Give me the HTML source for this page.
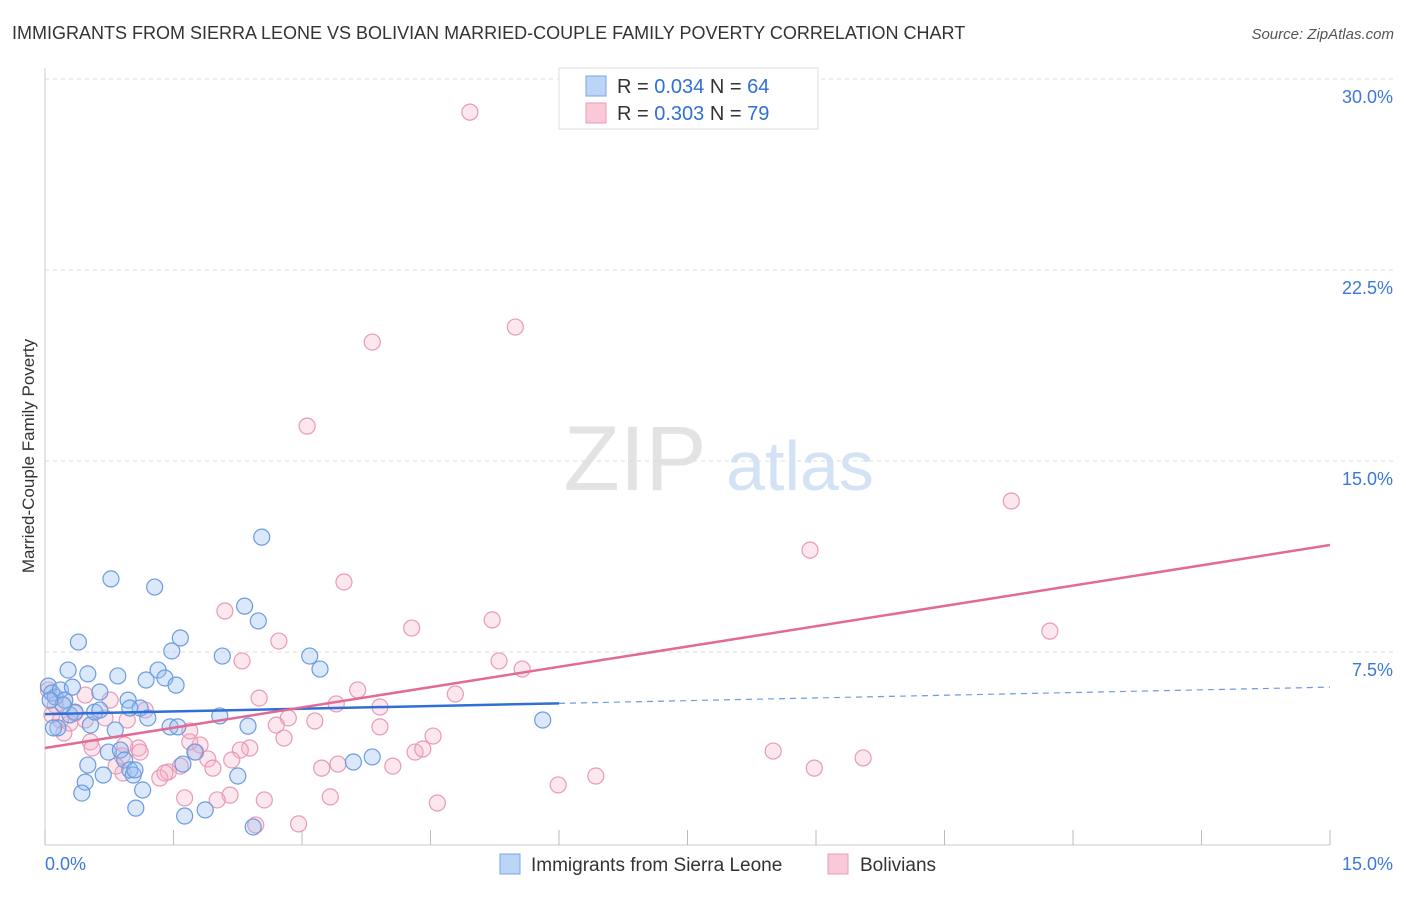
<!DOCTYPE html>
<html><head><meta charset="utf-8">
<style>
body{margin:0;background:#fff;font-family:"Liberation Sans",sans-serif;}
svg text{font-family:"Liberation Sans",sans-serif;}
</style></head>
<body>
<svg id="chart" width="1406" height="892" xmlns="http://www.w3.org/2000/svg">
<text x="12" y="39" font-size="18" fill="#333">IMMIGRANTS FROM SIERRA LEONE VS BOLIVIAN MARRIED-COUPLE FAMILY POVERTY CORRELATION CHART</text>
<text x="1394" y="39" font-size="15" fill="#555" text-anchor="end" font-style="italic">Source: ZipAtlas.com</text>
<g>
<text x="635" y="490" font-size="92" fill="#ddd" text-anchor="middle" font-family="Liberation Serif" opacity="0.8">ZIP</text>
<text x="800" y="490" font-size="70" fill="#c9dcf2" text-anchor="middle" opacity="0.8">atlas</text>
</g>
<g id="grid"></g>
<g id="axes"></g>
<g id="marks"></g>
<text transform="translate(34,456) rotate(-90)" font-size="17" fill="#333" text-anchor="middle">Married-Couple Family Poverty</text>
<g>
<rect x="559" y="68" width="259" height="61" fill="#fff" stroke="#ddd"/>
<rect x="586" y="76" width="20" height="20" fill="#bcd5f5" stroke="#7aa6e6"/>
<rect x="586" y="103" width="20" height="20" fill="#f9c9d8" stroke="#ea9ab6"/>
<text x="617" y="93" font-size="20" fill="#333">R = <tspan fill="#2f6fd6">0.034</tspan>   N = <tspan fill="#2f6fd6">64</tspan></text>
<text x="617" y="120" font-size="20" fill="#333">R = <tspan fill="#2f6fd6">0.303</tspan>   N = <tspan fill="#2f6fd6">79</tspan></text>
</g>
<g>
<rect x="500" y="854" width="20" height="20" fill="#bcd5f5" stroke="#7aa6e6"/>
<text x="531" y="871" font-size="19" fill="#333">Immigrants from Sierra Leone</text>
<rect x="828" y="854" width="20" height="20" fill="#f9c9d8" stroke="#ea9ab6"/>
<text x="860" y="871" font-size="19" fill="#333">Bolivians</text>
</g>
</svg>
<script>
const yTicks=[7.5,15,22.5,30];
const yTickLabels=["7.5%","15.0%","22.5%","30.0%"];
const xTickLabels=["0.0%","15.0%"];
const blueX=[.04,.08,.12,.18,.23,.15,.10,.27,.32,.39,.29,.35,.50,.53,.47,.43,.50,.58,.64,.68,.74,.77,.85,.82,.88,.93,.97,.99,1.03,1.06,1.11,1.14,1.18,1.20,1.28,1.32,1.40,1.48,1.53,1.58,1.46,1.55,1.61,1.63,1.75,1.87,2.07,2.04,2.25,2.33,2.37,2.43,2.49,2.53,3.09,3.21,3.60,3.82,5.81,.99,1.05,.21,.06,.64];
const blueY=[6.16,5.89,5.73,6.01,5.61,4.52,4.52,6.79,6.12,7.89,5.03,5.14,6.64,4.63,2.39,1.96,3.06,5.14,5.93,2.67,3.57,10.37,6.56,4.44,3.65,3.26,5.61,2.87,2.67,1.37,5.30,2.08,6.40,4.91,10.05,6.79,6.48,7.54,6.20,8.05,4.56,4.56,3.10,1.06,3.57,1.30,7.34,4.99,2.63,9.30,4.59,0.63,8.72,12.01,7.34,6.83,3.18,3.38,4.83,5.30,2.87,5.42,5.61,5.22];
const pinkX=[4.96,5.49,3.82,3.06,11.28,8.93,3.49,2.10,4.28,5.22,11.73,2.73,2.30,5.30,5.57,3.65,4.79,2.50,3.40,3.91,2.84,3.15,2.70,3.91,4.53,2.79,2.39,2.28,4.32,4.41,8.50,9.55,1.81,1.90,1.96,2.18,1.76,1.58,1.44,1.34,1.40,1.69,1.09,1.11,.90,.91,.83,.93,.53,.55,.47,.35,.29,.22,.18,.12,.47,.76,1.17,.70,.96,1.69,3.23,3.42,4.06,5.99,6.43,8.98,2.56,2.16,1.63,2.01,3.33,4.58,2.96,2.46,.04,.08,.23];
const pinkY=[28.70,20.26,19.67,16.37,13.43,11.50,10.25,9.11,8.44,8.76,8.32,7.93,7.15,7.15,6.83,6.01,5.85,5.69,5.46,5.34,4.91,4.79,4.63,4.56,4.20,4.12,3.73,3.65,3.57,3.69,3.61,3.34,3.85,3.30,2.94,3.26,3.57,3.02,2.79,2.55,2.75,3.97,3.73,3.57,3.42,2.75,3.02,3.85,3.97,3.73,4.83,5.10,4.71,4.32,4.83,5.42,5.81,5.61,5.22,4.91,4.83,4.40,2.94,3.10,3.02,2.28,2.63,2.94,1.69,1.88,1.77,1.69,1.81,1.57,0.75,0.71,6.01,5.03,5.61];
const blueTrend=[5.06,6.12]; // at x=0 and x=15; solid to 6
const pinkTrend=[3.73,11.70];
const NS="http://www.w3.org/2000/svg";
const X=v=>45+v*(1285/15);
const Y=v=>843-v*(191/7.5);
function mk(t,a,p){const e=document.createElementNS(NS,t);for(const k in a)e.setAttribute(k,a[k]);p.appendChild(e);return e;}
const grid=document.getElementById('grid'),axes=document.getElementById('axes'),marks=document.getElementById('marks');
yTicks.forEach((v,i)=>{
 const l=mk('line',{x1:45,x2:1393,y1:Y(v),y2:Y(v),stroke:'#ddd','stroke-dasharray':'4,4'},grid);
 
 
 const t=mk('text',{x:1393,y:Y(v)+24,'font-size':18,fill:'#3b78d8','text-anchor':'end'},axes);
 t.textContent=yTickLabels[i];
 
 
});
mk('line',{x1:45,x2:45,y1:68,y2:845,stroke:'#ccc'},axes);
mk('line',{x1:45,x2:1330,y1:845,y2:845,stroke:'#ccc'},axes);
for(let i=0;i<=10;i++){const tk=mk('line',{x1:X(i*1.5),x2:X(i*1.5),y1:830,y2:845,stroke:'#bbb'},axes);
 
 }
[[0,'start',45],[15,'end',1393]].forEach((d,i)=>{const t=mk('text',{x:d[2],y:870,'font-size':18,fill:'#3b78d8','text-anchor':d[1]},axes);t.textContent=xTickLabels[i];
 
 });
function pts(xs,ys,stroke,fill,name){xs.forEach((x,i)=>{const c=mk('circle',{cx:X(x),cy:Y(ys[i]),r:8,fill:fill,stroke:stroke,'stroke-width':1.2},marks);
 
 });}
pts(pinkX,pinkY,'#e89ab5','rgba(245,175,200,0.3)','bolivian-point');
pts(blueX,blueY,'#6b9be0','rgba(150,190,240,0.35)','sierra-leone-point');
const bAt=x=>blueTrend[0]+(blueTrend[1]-blueTrend[0])*x/15;
let l=mk('line',{x1:X(0),y1:Y(bAt(0)),x2:X(6),y2:Y(bAt(6)),stroke:'#2f6fd6','stroke-width':2.5},marks);


l=mk('line',{x1:X(6),y1:Y(bAt(6)),x2:X(15),y2:Y(bAt(15)),stroke:'#6b9be0','stroke-width':1.2,'stroke-dasharray':'6,5'},marks);


l=mk('line',{x1:X(0),y1:Y(pinkTrend[0]),x2:X(15),y2:Y(pinkTrend[1]),stroke:'#e26a97','stroke-width':2.5},marks);


</script>
</body></html>
